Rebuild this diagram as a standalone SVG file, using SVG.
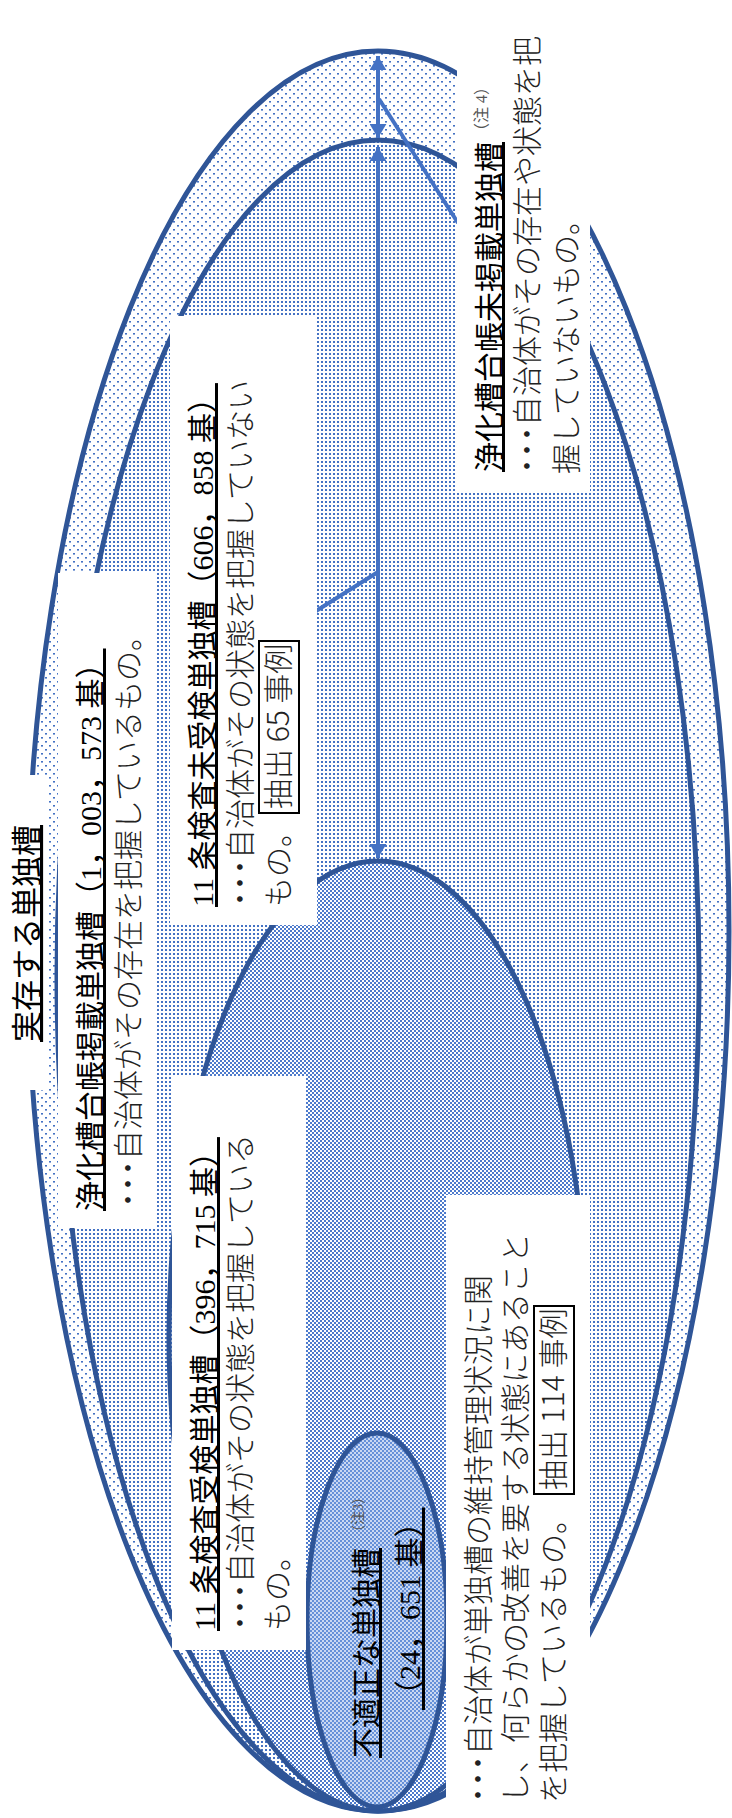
<svg xmlns="http://www.w3.org/2000/svg" width="732" height="1818" viewBox="0 0 732 1818">
<defs>
<style>
.set{stroke:#2F5597;stroke-width:5}
.box{fill:#ffffff}
.conn{stroke:#4472C4;stroke-width:4;fill:none}
.h{font-family:'Liberation Serif','Noto Sans CJK JP',serif;font-size:30px;fill:#000;text-decoration:underline}
.t{font-family:'Liberation Serif','Noto Sans CJK JP',serif;font-size:31px;fill:#000;text-decoration:underline}
.d{font-family:'Noto Sans CJK JP',sans-serif;font-size:30px;font-weight:300;fill:#222}
.sup{font-family:'Liberation Serif','Noto Sans CJK JP',serif;fill:#555}
.tag{fill:none;stroke:#000;stroke-width:2}
</style>
<pattern id="pSparse" width="8" height="8" patternUnits="userSpaceOnUse">
<rect width="8" height="8" fill="#fff"/>
<rect x="1" y="1" width="2" height="1.6" fill="#4472C4"/>
<rect x="5" y="5" width="2" height="1.6" fill="#4472C4"/>
</pattern>
<pattern id="pDense" width="4" height="4" patternUnits="userSpaceOnUse">
<rect width="4" height="4" fill="#fff"/>
<rect x="1" y="1" width="2" height="2" fill="#4472C4"/>
</pattern>
<pattern id="pCheck" width="4" height="4" patternUnits="userSpaceOnUse">
<rect width="4" height="4" fill="#fff"/>
<rect x="0" y="0" width="2" height="2" fill="#4E7BCC"/>
<rect x="2" y="2" width="2" height="2" fill="#4E7BCC"/>
</pattern>
<pattern id="pSmall" width="4" height="4" patternUnits="userSpaceOnUse">
<rect width="4" height="4" fill="#CAD8F2"/>
<rect x="0" y="0" width="2" height="2" fill="#6590D8"/>
<rect x="2" y="2" width="2" height="2" fill="#6590D8"/>
</pattern>
<marker id="ah" viewBox="0 0 10 12" refX="10" refY="6" markerWidth="14" markerHeight="17" markerUnits="userSpaceOnUse" orient="auto-start-reverse">
<path d="M0,0 L10,6 L0,12 z" fill="#4472C4"/>
</marker>
</defs>

<g id="set-existing">
<ellipse class="set" cx="378" cy="931" rx="351" ry="880" fill="url(#pSparse)"/>
</g>
<g id="set-registered">
<ellipse class="set" cx="378" cy="975.5" rx="321" ry="835.5" fill="url(#pDense)"/>
</g>
<g id="set-inspected">
<ellipse class="set" cx="378" cy="1336" rx="209" ry="475" fill="url(#pCheck)"/>
</g>
<g id="set-improper">
<ellipse class="set" cx="377" cy="1620" rx="70" ry="187" fill="url(#pSmall)"/>
</g>

<g id="connectors">
<line class="conn" x1="378" y1="56" x2="378" y2="138" marker-start="url(#ah)" marker-end="url(#ah)"/>
<line class="conn" x1="378" y1="147" x2="378" y2="858" marker-start="url(#ah)" marker-end="url(#ah)"/>
<line class="conn" x1="379" y1="99" x2="458" y2="223"/>
<line class="conn" x1="378" y1="572" x2="316" y2="611"/>
</g>

<g id="label-existing" transform="matrix(0,-1,1,0,0,1818)">
<rect class="box" x="728" y="8" width="315" height="39"/>
<text class="t" x="776" y="38">実存する単独槽</text>
</g>

<g id="label-registered" transform="matrix(0,-1,1,0,0,1818)">
<rect class="box" x="590" y="58" width="655" height="97"/>
<text class="h" x="607" y="101">浄化槽台帳掲載単独槽（1，003，573 基）</text>
<text class="d" x="610" y="139" dx="-7 -14 -14 -7">・・・自治体がその存在を把握しているもの。</text>
</g>

<g id="label-uninspected" transform="matrix(0,-1,1,0,0,1818)">
<rect class="box" x="893" y="170" width="609" height="147"/>
<text class="h" x="911" y="213">11 条検査未受検単独槽（606，858 基）</text>
<text class="d" x="911" y="251" dx="-7 -14 -14 -7">・・・自治体がその状態を把握していない</text>
<text class="d" x="911" y="289">もの。</text>
<rect class="tag" x="1005" y="259" width="172" height="40"/>
<text class="d" x="1009" y="289">抽出 65 事例</text>
</g>

<g id="label-unregistered" transform="matrix(0,-1,1,0,0,1818)">
<rect class="box" x="1326" y="457" width="492" height="133"/>
<text class="h" x="1346" y="500">浄化槽台帳未掲載単独槽</text>
<text class="sup" x="1679" y="487" font-size="16">（注 4）</text>
<text class="d" x="1344" y="538" dx="-7 -14 -14 -7">・・・自治体がその存在や状態を把</text>
<text class="d" x="1344" y="577">握していないもの。</text>
</g>

<g id="label-inspected" transform="matrix(0,-1,1,0,0,1818)">
<rect class="box" x="168" y="172" width="574" height="134"/>
<text class="h" x="187" y="215">11 条検査受検単独槽（396，715 基）</text>
<text class="d" x="187" y="251" dx="-7 -14 -14 -7">・・・自治体がその状態を把握している</text>
<text class="d" x="187" y="288">もの。</text>
</g>

<g id="label-improper" transform="matrix(0,-1,1,0,0,1818)">
<text class="h" x="60" y="377">不適正な単独槽</text>
<text class="sup" x="279" y="363" font-size="14">（注3）</text>
<text class="h" x="108" y="420">（24，651 基）</text>
</g>

<g id="label-improper-desc" transform="matrix(0,-1,1,0,0,1818)">
<rect class="box" x="0" y="446" width="623" height="144"/>
<text class="d" x="15" y="489" dx="-7 -14 -14 -7">・・・自治体が単独槽の維持管理状況に関</text>
<text class="d" x="15" y="526">し、何らかの改善を要する状態にあること</text>
<text class="d" x="15" y="564">を把握しているもの。</text>
<rect class="tag" x="324" y="534" width="188" height="40"/>
<text class="d" x="328" y="564">抽出 114 事例</text>
</g>
</svg>
